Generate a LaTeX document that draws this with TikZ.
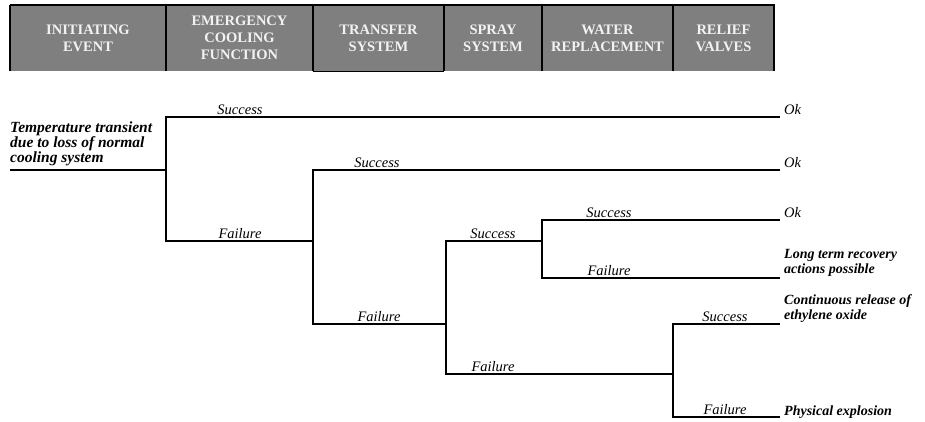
\documentclass[tikz,border=0pt]{standalone}
\usepackage{fontspec}
\setmainfont{Liberation Serif}
\usetikzlibrary{positioning}
\definecolor{hdrgray}{HTML}{7F7F7F}
\definecolor{hdrtext}{HTML}{F2F2F2}

\tikzset{
    hdr/.style={fill=hdrgray, text=hdrtext, font=\fontsize{14.5}{17}\selectfont\bfseries, align=center, inner sep=0pt, minimum height=66pt},
    branch/.style={font=\fontsize{14.5}{15}\selectfont\itshape, anchor=south, inner sep=1pt},
    outcome/.style={font=\fontsize{14}{15}\selectfont\bfseries\itshape, align=left, anchor=south west, inner sep=1pt},
    okout/.style={outcome, font=\fontsize{14.5}{15}\selectfont\itshape},
    tree/.style={line width=1.2pt},
}

\begin{document}
\begin{tikzpicture}[x=1pt,y=-1pt]
    \useasboundingbox (0,0) rectangle (925,421);

    % Header of the event tree
    \foreach \n/\xa/\xb/\txt in {ie/10/166/{INITIATING\\EVENT}, ec/166/313/{EMERGENCY\\COOLING\\FUNCTION}, ts/313/444/{TRANSFER\\SYSTEM}, ss/444/542/{SPRAY\\SYSTEM}, wr/542/673/{WATER\\REPLACEMENT}, rv/673/774/{RELIEF\\VALVES}} {
        \node[hdr, minimum width={\xb-\xa}] (h\n) at ({(\xa+\xb)/2},38) {\txt};
        \draw[line width=1.6pt] (h\n.north west) -- (h\n.south west);
    }
    \draw[line width=1.6pt] (hie.north west) -- (hrv.north east) -- (hrv.south east);
    \draw[line width=0.8pt] (hts.south west) -- (hts.south east);

    % Branch points and end points
    \coordinate (start) at (10,170);
    \coordinate (b1) at (166,170);
    \coordinate (b1s) at (166,117);
    \coordinate (b1f) at (166,241);
    \coordinate (b2) at (313,241);
    \coordinate (b2s) at (313,170);
    \coordinate (b2f) at (313,324);
    \coordinate (b3) at (446,324);
    \coordinate (b3s) at (446,241);
    \coordinate (b3f) at (446,374);
    \coordinate (b4) at (542,241);
    \coordinate (b4s) at (542,220);
    \coordinate (b4f) at (542,278);
    \coordinate (b5) at (673,374);
    \coordinate (b5s) at (673,324);
    \coordinate (b5f) at (673,417);
    \foreach \i/\y in {1/117, 2/170, 3/220, 4/278, 5/324, 6/417}
        \coordinate (e\i) at (780,\y);

    % Initiating event
    \node[outcome, inner sep=0pt, font=\fontsize{15.5}{15}\selectfont\bfseries\itshape] (init) at (10,166) {Temperature transient\\due to loss of normal\\cooling system};
    \draw[tree] (start) -- (b1);

    % Branches
    \draw[tree] (e1) -- (b1s) -- (b1f) -- (b2);
    \draw[tree] (e2) -- (b2s) -- (b2f) -- (b3);
    \draw[tree] (b4) -- (b3s) -- (b3f) -- (b5);
    \draw[tree] (e3) -- (b4s) -- (b4f) -- (e4);
    \draw[tree] (e5) -- (b5s) -- (b5f) -- (e6);

    % Success / failure labels
    \node[branch] (s1) at (240,116) {Success};
    \node[branch] (f1) at (240,240) {Failure};
    \node[branch] (s2) at (377,169) {Success};
    \node[branch] (f2) at (379,323) {Failure};
    \node[branch] (s3) at (493,240) {Success};
    \node[branch] (f3) at (493,373) {Failure};
    \node[branch] (s4) at (609,219) {Success};
    \node[branch] (f4) at (609,277) {Failure};
    \node[branch] (s5) at (725,323) {Success};
    \node[branch] (f5) at (725,416) {Failure};

    % Outcomes
    \node[okout] (o1) at (783,116) {Ok};
    \node[okout] (o2) at (783,169) {Ok};
    \node[okout] (o3) at (783,219) {Ok};
    \node[outcome] (o4) at (783,278) {Long term recovery\\actions possible};
    \node[outcome] (o5) at (783,324) {Continuous release of\\ethylene oxide};
    \node[outcome] (o6) at (783,420) {Physical explosion};
\end{tikzpicture}
\end{document}
